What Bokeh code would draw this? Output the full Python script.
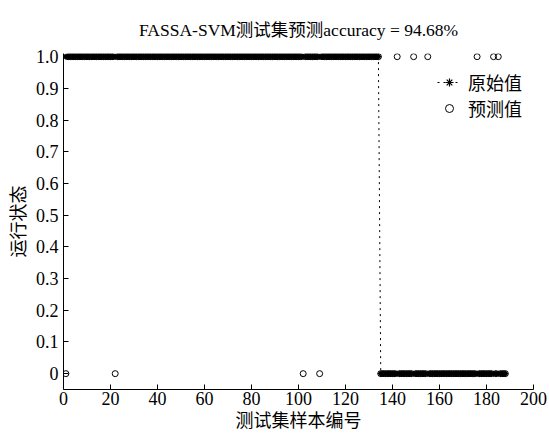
from bokeh.plotting import figure
from bokeh.models import Range1d, FixedTicker, CustomJSTickFormatter, Legend, LegendItem
from bokeh.embed import file_html
from bokeh.resources import INLINE

# ---- data ----
n_samples = 188
n_class1 = 134
sample_idx = list(range(1, n_samples + 1))
original = [1] * n_class1 + [0] * (n_samples - n_class1)
wrong_to_0 = [1, 22, 102, 109]
wrong_to_1 = [142, 149, 155, 176, 183, 185]
predicted = list(original)
for i in wrong_to_0:
    predicted[i - 1] = 0
for i in wrong_to_1:
    predicted[i - 1] = 1

x_ticks = [0, 20, 40, 60, 80, 100, 120, 140, 160, 180, 200]
y_ticks = [0, 0.1, 0.2, 0.3, 0.4, 0.5, 0.6, 0.7, 0.8, 0.9, 1.0]

title_text = "FASSA-SVM测试集预测accuracy = 94.68%"
x_label = "测试集样本编号"
y_label = "运行状态"
legend_labels = ["原始值", "预测值"]

FONT = "'Liberation Serif', 'Times New Roman', 'Noto Sans CJK SC', serif"

p = figure(width=549, height=433, output_backend="svg", toolbar_location=None,
           x_range=Range1d(0, 200), y_range=Range1d(-0.05, 1.01),
           min_border_left=63, min_border_right=16, min_border_top=53, min_border_bottom=43)
p.outline_line_color = None
p.grid.visible = False
p.background_fill_color = "white"

p.title.text = title_text
p.title.align = "center"
p.title.text_font = FONT
p.title.text_font_size = "17.5px"
p.title.text_font_style = "normal"
p.title.text_color = "black"
p.title.standoff = 28

for ax in (p.xaxis[0], p.yaxis[0]):
    ax.major_tick_in = 5
    ax.major_tick_out = 0
    ax.minor_tick_line_color = None
    ax.axis_line_color = "black"
    ax.major_tick_line_color = "black"
    ax.major_label_text_font = FONT
    ax.major_label_text_font_size = "18px"
    ax.major_label_text_color = "black"
    ax.axis_label_text_font = FONT
    ax.axis_label_text_font_size = "18px"
    ax.axis_label_text_font_style = "normal"
    ax.axis_label_text_color = "black"

p.xaxis.ticker = FixedTicker(ticks=x_ticks)
p.yaxis.ticker = FixedTicker(ticks=y_ticks)
p.yaxis.formatter = CustomJSTickFormatter(code="return Math.abs(tick) < 1e-9 ? '0' : tick.toFixed(1);")
p.xaxis.axis_label = x_label
p.yaxis.axis_label = y_label
p.xaxis.major_label_standoff = 2
p.xaxis.axis_label_standoff = 3
p.yaxis.major_label_standoff = 5
p.yaxis.axis_label_standoff = 4

l1 = p.line(sample_idx, original, line_color="black", line_dash="dotted", line_width=1)
s1 = p.scatter(sample_idx, original, marker="asterisk", size=6, line_color="black", line_width=1.2)
s2 = p.scatter(sample_idx, predicted, marker="circle", size=6, line_color="black",
               fill_color=None, line_width=1)

legend = Legend(items=[LegendItem(label=legend_labels[0], renderers=[l1, s1]),
                       LegendItem(label=legend_labels[1], renderers=[s2])],
                location=(374, 268))
legend.border_line_color = None
legend.background_fill_alpha = 0
legend.label_text_font = FONT
legend.label_text_font_size = "18px"
legend.label_text_color = "black"
legend.glyph_width = 24
legend.label_standoff = 7
legend.spacing = -5
legend.margin = 0
legend.padding = 4
p.add_layout(legend)

open("out.html", "w").write(file_html(p, INLINE))
